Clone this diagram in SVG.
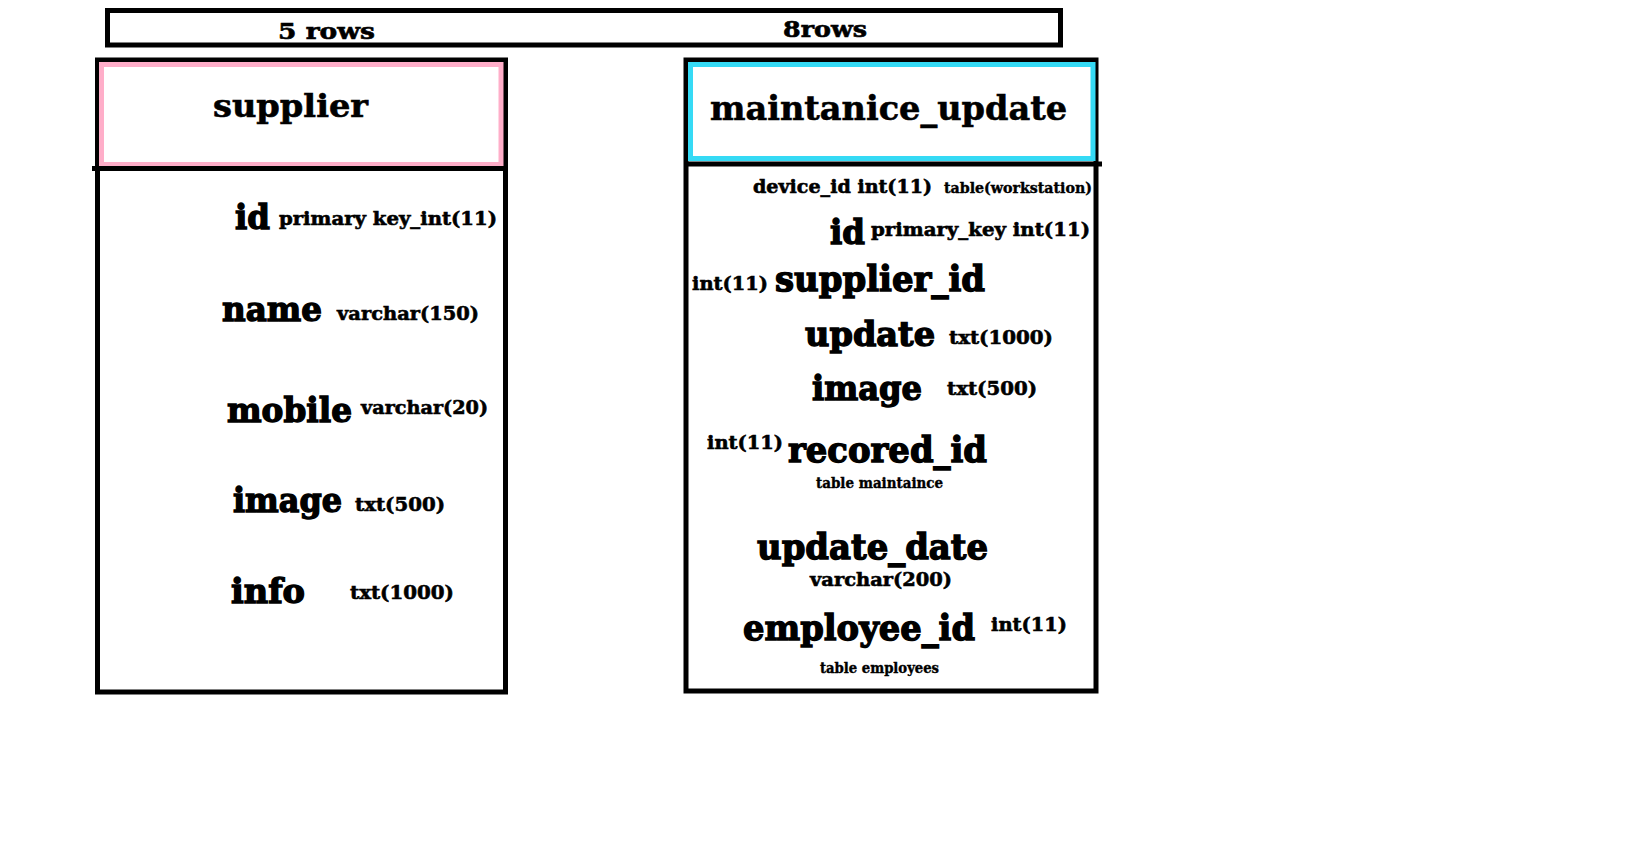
<svg xmlns="http://www.w3.org/2000/svg" width="1652" height="860" viewBox="0 0 1652 860">
<style>
text{font-family:"DejaVu Serif","Liberation Serif",serif;font-weight:bold;fill:#000;stroke:#000;stroke-width:0.6}
.box{fill:#fff;stroke:#000;stroke-width:5}
.pink{fill:none;stroke:#ffaec9;stroke-width:5}
.cyan{fill:none;stroke:#35daf5;stroke-width:5}
.div{stroke:#000;stroke-width:5}
.big{font-size:34px;stroke-width:1.4}
.hd{font-size:36px;stroke-width:1.4}
.sm{font-size:19px}
.xs{font-size:14px;stroke-width:0.4}
</style>
<rect width="1652" height="860" fill="#fff"/>
<g id="rows-bar">
<rect class="box" x="107.5" y="10.5" width="953" height="34.5"/>
<text x="278" y="38.5" font-size="23" stroke-width="0.9" textLength="97" lengthAdjust="spacingAndGlyphs">5 rows</text>
<text x="783" y="37" font-size="23" stroke-width="0.9" textLength="84" lengthAdjust="spacingAndGlyphs">8rows</text>
</g>
<g id="supplier">
<rect class="box" x="97.5" y="60" width="408" height="632"/>
<rect class="pink" x="101.5" y="64.5" width="399.5" height="100"/>
<line class="div" x1="92" y1="168.5" x2="507" y2="168.5"/>
<text x="213" y="117" font-size="32" stroke-width="1.3" textLength="155" lengthAdjust="spacingAndGlyphs">supplier</text>
<text class="big" x="235" y="229" textLength="35" lengthAdjust="spacingAndGlyphs">id</text>
<text class="sm" x="279" y="225" textLength="218" lengthAdjust="spacingAndGlyphs">primary key_int(11)</text>
<text class="big" x="222" y="321" textLength="100" lengthAdjust="spacingAndGlyphs">name</text>
<text class="sm" x="337" y="320" textLength="142" lengthAdjust="spacingAndGlyphs">varchar(150)</text>
<text class="big" x="227" y="422" textLength="125" lengthAdjust="spacingAndGlyphs">mobile</text>
<text class="sm" x="361" y="414" textLength="127" lengthAdjust="spacingAndGlyphs">varchar(20)</text>
<text class="big" x="233" y="512" textLength="109" lengthAdjust="spacingAndGlyphs">image</text>
<text class="sm" x="355" y="511" textLength="90" lengthAdjust="spacingAndGlyphs">txt(500)</text>
<text class="big" x="231" y="603" textLength="74" lengthAdjust="spacingAndGlyphs">info</text>
<text class="sm" x="350" y="599" textLength="104" lengthAdjust="spacingAndGlyphs">txt(1000)</text>
</g>
<g id="maintanice_update">
<rect class="box" x="686" y="60" width="410" height="631"/>
<rect class="cyan" x="690.5" y="64.5" width="402.5" height="94"/>
<line class="div" x1="686" y1="164" x2="1102" y2="164"/>
<text x="710" y="120" font-size="34" stroke-width="1.3" textLength="357" lengthAdjust="spacingAndGlyphs">maintanice_update</text>
<text class="sm" x="753" y="193" textLength="179" lengthAdjust="spacingAndGlyphs">device_id int(11)</text>
<text class="xs" x="944" y="193" textLength="148" lengthAdjust="spacingAndGlyphs">table(workstation)</text>
<text class="big" x="830" y="244" textLength="35" lengthAdjust="spacingAndGlyphs">id</text>
<text class="sm" x="871" y="236" textLength="219" lengthAdjust="spacingAndGlyphs">primary_key int(11)</text>
<text class="sm" x="692" y="290" textLength="76" lengthAdjust="spacingAndGlyphs">int(11)</text>
<text class="hd" x="775" y="291" textLength="210" lengthAdjust="spacingAndGlyphs">supplier_id</text>
<text class="big" x="805" y="346" textLength="130" lengthAdjust="spacingAndGlyphs">update</text>
<text class="sm" x="949" y="344" textLength="104" lengthAdjust="spacingAndGlyphs">txt(1000)</text>
<text class="big" x="812" y="400" textLength="110" lengthAdjust="spacingAndGlyphs">image</text>
<text class="sm" x="947" y="395" textLength="90" lengthAdjust="spacingAndGlyphs">txt(500)</text>
<text class="sm" x="707" y="449" textLength="76" lengthAdjust="spacingAndGlyphs">int(11)</text>
<text class="hd" x="788" y="462" textLength="199" lengthAdjust="spacingAndGlyphs">recored_id</text>
<text class="xs" x="816" y="488" textLength="127" lengthAdjust="spacingAndGlyphs">table maintaince</text>
<text class="hd" x="757" y="559" textLength="231" lengthAdjust="spacingAndGlyphs">update_date</text>
<text class="sm" x="810" y="586" textLength="142" lengthAdjust="spacingAndGlyphs">varchar(200)</text>
<text class="hd" x="743" y="640" textLength="232" lengthAdjust="spacingAndGlyphs">employee_id</text>
<text class="sm" x="991" y="631" textLength="76" lengthAdjust="spacingAndGlyphs">int(11)</text>
<text class="xs" x="820" y="673" textLength="119" lengthAdjust="spacingAndGlyphs">table employees</text>
</g>
<g id="connectors"/>
</svg>
